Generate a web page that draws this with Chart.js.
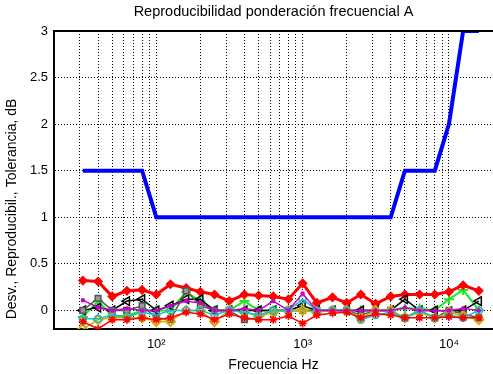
<!DOCTYPE html>
<html>
<head>
<meta charset="utf-8">
<script src="https://cdn.jsdelivr.net/npm/chart.js@4"></script>
<style>
html,body{margin:0;padding:0;overflow:hidden;background:#fff;}
#wrap{width:500px;height:374px;}
</style>
</head>
<body>
<div id="wrap"><canvas id="c" width="500" height="374"></canvas></div>
<script>
const freqs = [31.5,40,50,63,80,100,125,160,200,250,315,400,500,630,800,1000,1250,1600,2000,2500,3150,4000,5000,6300,8000,10000,12500,16000];
const tolerance = [1.5,1.5,1.5,1.5,1.5,1,1,1,1,1,1,1,1,1,1,1,1,1,1,1,1,1,1.5,1.5,1.5,2,3,3];
const redUpper = [0.32,0.31,0.15,0.21,0.22,0.17,0.28,0.24,0.20,0.17,0.10,0.17,0.16,0.15,0.12,0.29,0.08,0.14,0.08,0.17,0.07,0.15,0.17,0.17,0.17,0.20,0.27,0.21];
const redLower = [-0.12,-0.20,-0.10,-0.10,-0.08,-0.10,-0.08,-0.02,-0.04,-0.10,-0.04,-0.08,-0.10,-0.10,-0.06,-0.14,-0.05,-0.03,-0.02,-0.08,-0.04,-0.05,-0.08,-0.08,-0.08,-0.07,-0.08,-0.08];
const magenta = [0.11,0.03,0.0,0.02,0.0,0.0,0.05,0.10,0.08,0.0,0.0,0.02,0.0,0.10,0.0,0.18,0.0,0.0,0.0,0.0,0.0,0.0,0.03,0.0,0.0,0.0,0.02,0.0];
const cyan = [-0.09,-0.09,-0.05,-0.07,-0.02,-0.05,0.0,0.0,0.0,-0.05,0.0,-0.02,-0.05,0.0,0.0,0.12,0.0,0.0,0.0,-0.10,-0.05,-0.02,-0.08,0.0,-0.08,-0.05,-0.08,0.0];
const black = [0.0,0.03,0.0,0.10,0.12,0.0,0.05,0.12,0.12,0.0,0.0,0.0,0.0,0.0,0.0,0.05,0.0,0.0,0.0,0.0,0.0,0.0,0.12,0.0,0.0,-0.01,0.0,0.10];
const green = [-0.07,0.10,-0.06,-0.06,0.0,0.0,0.0,0.20,0.10,0.0,0.0,0.10,0.0,0.0,0.0,0.0,0.0,0.0,0.0,0.0,0.0,0.0,0.02,0.02,0.0,0.12,0.22,0.0];
const olive = [-0.20,-0.10,-0.08,-0.08,-0.08,-0.12,-0.12,0.0,0.0,-0.12,0.0,-0.02,-0.06,-0.02,0.0,0.0,-0.02,0.0,0.0,-0.08,0.0,0.0,-0.08,-0.02,-0.08,-0.02,-0.06,-0.10];
const gray = [0.0,0.13,0.0,0.0,0.05,-0.08,-0.10,0.21,0.05,0.0,0.0,-0.10,-0.08,0.0,0.0,0.0,0.0,0.0,0.0,-0.05,0.0,0.0,-0.08,0.0,-0.08,0.0,-0.04,-0.08];

const yTicks = [0,0.5,1,1.5,2,2.5,3];
const xGrid = [30,40,50,60,70,80,90,100,200,300,400,500,600,700,800,900,1000,2000,3000,4000,5000,6000,7000,8000,9000,10000,20000];
const xTickLabels = {100:'10²',1000:'10³',10000:'10⁴'};
const titleText = 'Reproducibilidad ponderación frecuencial A';
const xLabel = 'Frecuencia Hz';
const yLabel = 'Desv., Reproducibil., Tolerancia, dB';

const FONT = '"Liberation Sans", Arial, sans-serif';
const pts = arr => freqs.map((f,i)=>({x:f,y:arr[i]}));

function ds(arr, color, opts){
  return Object.assign({data:pts(arr), borderColor:color, backgroundColor:color, pointBorderColor:color, pointBackgroundColor:color, borderWidth:1.5, pointRadius:3, pointBorderWidth:1.5, fill:false, tension:0}, opts);
}

const datasets = [
  ds(tolerance,'#0000ff',{borderWidth:4,pointRadius:0}),
  ds(redLower,'#ff0000',{pointStyle:'star',pointRadius:4,borderWidth:1.5}),
  ds(magenta,'#cc00cc',{pointStyle:'circle',pointRadius:1.5}),
  ds(cyan,'#20b8c8',{pointStyle:'circle',pointRadius:3.5,pointBackgroundColor:'rgba(0,0,0,0)'}),
  ds(olive,'#c8b400',{pointStyle:'rectRot',pointRadius:4.5,pointBackgroundColor:'rgba(0,0,0,0)',pointBorderWidth:2}),
  ds(gray,'#555555',{pointStyle:'rect',pointRadius:4,pointBackgroundColor:'#999999',borderWidth:1.5}),
  ds(black,'#000000',{pointStyle:'triangle',pointRotation:-90,pointRadius:5,pointBackgroundColor:'rgba(0,0,0,0)'}),
  ds(redUpper,'#ff0000',{pointStyle:'rectRot',pointRadius:4,borderWidth:3}),
  ds(green,'#22e622',{pointStyle:'cross',pointRadius:5,pointBorderWidth:2,borderWidth:2})
];

const textPlugin = {
  id:'texts',
  afterDraw(chart){
    const {ctx, chartArea:a} = chart;
    ctx.save();
    ctx.strokeStyle = '#000';
    ctx.lineWidth = 2;
    ctx.beginPath(); ctx.moveTo(a.left-1, a.top); ctx.lineTo(a.right, a.top); ctx.stroke();
    ctx.fillStyle = '#000';
    ctx.textAlign = 'center';
    ctx.textBaseline = 'middle';
    const cx = (a.left + a.right)/2;
    ctx.font = '14.5px ' + FONT;
    ctx.fillText(titleText, cx, 12);
    ctx.font = '14px ' + FONT;
    ctx.fillText(xLabel, cx, 365.5);
    ctx.translate(12, 209);
    ctx.rotate(-Math.PI/2);
    ctx.fillText(yLabel, 0, 0);
    ctx.restore();
  }
};

new Chart(document.getElementById('c'), {
  type:'line',
  data:{datasets},
  options:{
    responsive:false,
    animation:false,
    layout:{padding:{top:31,right:2,left:0,bottom:0}},
    plugins:{legend:{display:false},tooltip:{enabled:false},title:{display:false}},
    scales:{
      x:{
        type:'logarithmic',
        min:20, max:20000,
        afterBuildTicks(s){ s.ticks = xGrid.map(v=>({value:v})); },
        afterFit(s){ s.height = 45; s.paddingLeft = 0; s.paddingRight = 0; },
        ticks:{autoSkip:false, maxRotation:0, padding:8, color:'#000', font:{family:FONT,size:13},
          callback:(v)=> xTickLabels[v] || ''},
        grid:{color:'#000', lineWidth:1, drawTicks:false},
        border:{display:true, color:'#000', width:2, dash:[1,2]}
      },
      y:{
        type:'linear',
        min:-0.2, max:3,
        afterBuildTicks(s){ s.ticks = yTicks.map(v=>({value:v})); },
        afterFit(s){ s.width = 54; s.paddingTop = 0; s.paddingBottom = 0; },
        ticks:{padding:6, color:'#000', font:{family:FONT,size:13}, callback:(v)=>String(v)},
        grid:{color:'#000', lineWidth:1, drawTicks:false},
        border:{display:true, color:'#000', width:2, dash:[1,2]}
      }
    }
  },
  plugins:[textPlugin]
});
</script>
</body>
</html>
